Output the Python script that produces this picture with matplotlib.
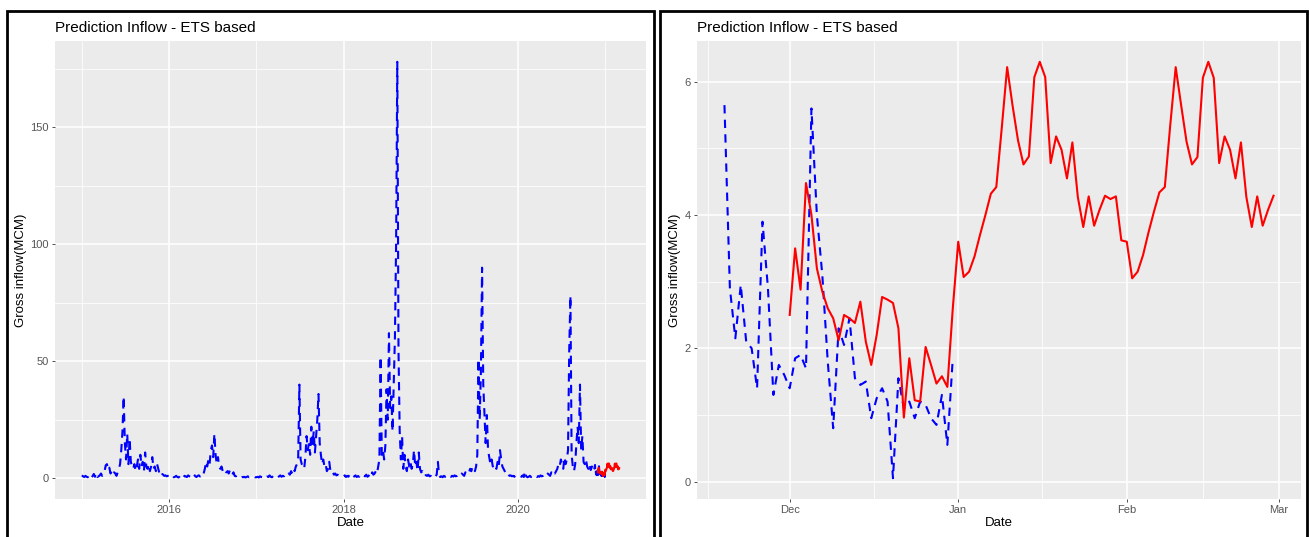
import matplotlib
matplotlib.use('Agg')
import matplotlib.pyplot as plt
import matplotlib.dates as mdates
from matplotlib.patches import Rectangle
import numpy as np
import pandas as pd

plt.rcParams['font.family'] = ['Liberation Sans', 'DejaVu Sans']

# observed gross inflow, read every 5 days from Jan 1 of each year
inflow_2015 = [1.2, 0.8, 0.5, 1.0, 0.6, 0.4, 1.5, 0.7, 0.3, 0.9,
               1.8, 0.6, 2.2, 0.5, 0.8, 1.2, 2.0, 1.0, 1.5, 3.0,
               5.5, 6.0, 3.5, 4.5, 2.0, 3.0, 1.5, 2.5, 2.0, 1.0,
               2.5, 4.0, 6.0, 12.0, 20.0, 35.0, 15.0, 8.0, 19.0, 6.0,
               17.0, 7.0, 5.0, 4.0, 6.0, 3.0, 5.0, 8.0, 4.0, 10.0,
               5.0, 7.0, 3.0, 11.0, 5.0, 4.0, 6.0, 3.0, 5.0, 9.0,
               4.0, 5.0, 3.0, 6.0, 4.0, 2.0, 3.0, 2.0, 1.5, 1.0,
               1.2, 0.8, 1.0]
inflow_2016 = [1.0, 0.5, 0.8, 1.2, 0.4, 0.6, 1.0, 0.5, 0.3, 0.8,
               1.5, 0.6, 0.4, 1.0, 0.7, 0.5, 1.2, 0.8, 0.5, 1.0,
               0.6, 1.5, 0.8, 0.5, 1.0, 1.2, 0.7, 1.5, 1.0, 2.0,
               4.0, 7.0, 5.0, 8.0, 6.0, 12.0, 14.0, 9.0, 19.0, 10.0,
               6.0, 9.0, 5.0, 4.0, 5.0, 3.0, 4.0, 3.0, 2.5, 3.0,
               2.0, 3.5, 2.0, 1.5, 2.5, 1.0, 0.8, 1.2, 0.5, 0.6,
               0.3, 0.5, 0.4, 0.6, 0.3, 0.5, 0.8, 0.4, 0.6, 0.3,
               0.5, 0.7, 0.4]
inflow_2017 = [0.4, 0.6, 0.3, 0.8, 0.5, 0.4, 1.0, 0.6, 0.3, 0.7,
               0.5, 1.2, 0.6, 0.4, 0.9, 0.5, 1.0, 0.7, 0.4, 0.8,
               1.2, 0.6, 1.0, 0.8, 1.5, 0.9, 1.2, 2.0, 1.5, 3.0,
               2.0, 4.0, 3.0, 5.0, 6.0, 9.0, 40.0, 8.0, 6.0, 5.0,
               4.0, 9.0, 18.0, 12.0, 15.0, 10.0, 22.0, 14.0, 20.0, 11.0,
               18.0, 25.0, 36.0, 15.0, 10.0, 6.0, 8.0, 5.0, 6.0, 3.0,
               4.0, 7.0, 3.0, 2.0, 2.5, 1.5, 2.0, 1.2, 1.5, 1.0,
               1.2, 0.8, 1.0]
inflow_2018 = [0.8, 1.2, 0.5, 1.0, 0.6, 1.5, 0.8, 0.4, 1.0, 0.7,
               1.2, 0.5, 0.9, 0.6, 1.3, 0.7, 0.5, 1.0, 0.8, 1.5,
               0.6, 1.0, 1.8, 0.8, 2.5, 1.5, 2.0, 3.0, 2.0, 5.0,
               8.0, 52.0, 10.0, 12.0, 8.0, 14.0, 38.0, 25.0, 62.0, 30.0,
               35.0, 20.0, 40.0, 60.0, 100.0, 178.0, 55.0, 20.0, 8.0, 18.0,
               4.0, 10.0, 5.0, 3.0, 8.0, 5.0, 7.0, 4.0, 6.0, 12.0,
               5.0, 7.0, 3.0, 11.0, 4.0, 2.5, 3.0, 1.5, 2.0, 1.2,
               1.0, 1.5, 0.8]
inflow_2019 = [1.0, 0.6, 1.2, 0.5, 0.8, 1.5, 7.0, 1.0, 0.5, 0.8,
               0.4, 1.0, 0.6, 0.8, 1.2, 0.5, 0.9, 0.6, 1.0, 0.7,
               1.2, 0.8, 1.0, 1.5, 0.9, 1.2, 2.0, 1.5, 1.0, 2.5,
               2.0, 3.0, 2.5, 4.0, 3.0, 5.0, 4.0, 3.0, 5.0, 10.0,
               51.0, 25.0, 45.0, 90.0, 40.0, 28.0, 15.0, 27.0, 12.0, 9.0,
               6.0, 8.0, 5.0, 6.0, 5.0, 4.0, 7.0, 5.0, 12.0, 8.0,
               5.0, 4.0, 3.0, 2.0, 2.5, 1.5, 1.0, 1.2, 0.8, 1.0,
               0.6, 1.0, 0.8]
inflow_2020 = [0.8, 0.5, 1.0, 0.6, 1.2, 0.5, 3.0, 0.8, 0.4, 0.6,
               1.0, 0.5, 0.8, 0.4, 0.7, 1.0, 0.5, 0.9, 0.6, 1.2,
               0.8, 1.0, 1.5, 0.8, 1.2, 2.0, 1.5, 1.0, 2.5, 2.0,
               3.0, 2.0, 3.0, 4.0, 6.0, 5.0, 8.0, 6.0, 4.0, 9.0,
               6.0, 8.0, 12.0, 55.0, 78.0, 10.0, 5.0, 3.0, 6.0, 15.0,
               22.0, 15.0, 40.0, 12.0, 18.0, 7.0, 6.0, 8.0, 5.0, 4.0,
               6.0, 3.5, 5.0, 3.0, 4.0]

# daily observed inflow, 19 Nov - 31 Dec 2020
tail_start = '2020-11-19'
inflow_tail = [5.65, 2.9, 2.15, 2.95, 2.1, 2.0, 1.4, 3.9, 2.9, 1.3, 1.75, 1.6,
               1.4, 1.85, 1.9, 1.7, 5.6, 4.0, 3.1, 1.8, 0.8, 2.3, 2.05, 2.45,
               1.55, 1.45, 1.5, 0.95, 1.25, 1.4, 1.2, 0.05, 1.55, 1.1, 1.2,
               0.95, 1.2, 1.15, 0.95, 0.85, 1.3, 0.55, 1.85]

# daily ETS prediction, 1 Dec 2020 - 28 Feb 2021
pred_start = '2020-12-01'
pred_dec = [2.5, 3.5, 2.88, 4.48, 4.0, 3.2, 2.85, 2.6, 2.45, 2.12, 2.5, 2.45,
            2.38, 2.7, 2.1, 1.75, 2.2, 2.77, 2.73, 2.68, 2.3, 0.96, 1.85,
            1.22, 1.2, 2.02, 1.75, 1.47, 1.58, 1.42, 2.6]
pred_jan = [3.6, 3.07, 3.15, 3.38, 3.7, 4.0, 4.32, 4.42, 5.3, 6.22, 5.64,
            5.12, 4.76, 4.88, 6.07, 6.3, 6.07, 4.78, 5.18, 4.98, 4.55, 5.09,
            4.27, 3.82, 4.28, 3.84, 4.08, 4.29, 4.24, 4.28, 3.62]
pred_feb = [3.6, 3.05, 3.15, 3.4, 3.74, 4.05, 4.34, 4.42, 5.35, 6.22, 5.65,
            5.1, 4.76, 4.87, 6.06, 6.3, 6.06, 4.78, 5.18, 4.98, 4.55, 5.09,
            4.27, 3.82, 4.28, 3.84, 4.08, 4.29]

title = 'Prediction Inflow - ETS based'
xlab = 'Date'
ylab = 'Gross inflow(MCM)'

# build series
years = [2015, 2016, 2017, 2018, 2019, 2020]
yearly = [inflow_2015, inflow_2016, inflow_2017, inflow_2018, inflow_2019, inflow_2020]
obs_dates = [pd.date_range(f'{y}-01-01', periods=len(v), freq='5D') for y, v in zip(years, yearly)]
tail_dates = pd.date_range(tail_start, periods=len(inflow_tail), freq='D')
obs_x = np.concatenate([d.to_numpy() for d in obs_dates] + [tail_dates.to_numpy()])
obs_y = np.concatenate(yearly + [inflow_tail])

pred_y = np.array(pred_dec + pred_jan + pred_feb)
pred_x = pd.date_range(pred_start, periods=len(pred_y), freq='D').to_numpy()

W, H = 1309, 537
fig = plt.figure(figsize=(W / 100, H / 100), dpi=100)

def px(x0, y0, x1, y1):
    return [x0 / W, 1 - y1 / H, (x1 - x0) / W, (y1 - y0) / H]

ax1 = fig.add_axes(px(55, 41, 646, 499))
ax2 = fig.add_axes(px(697, 41, 1301, 499))

blue_kw = dict(color='#0000FF', lw=1.5, ls='--', dashes=(4, 3))
red_kw = dict(color='#FF0000', lw=1.5)

ax1.plot(obs_x, obs_y, **blue_kw)
ax1.plot(pred_x, pred_y, **red_kw)
ax2.plot(tail_dates.to_numpy(), inflow_tail, **blue_kw)
ax2.plot(pred_x, pred_y, **red_kw)


def midpoints(locs):
    locs = np.asarray(locs, dtype=float)
    return (locs[:-1] + locs[1:]) / 2

# left: year ticks every 2 years
maj1 = mdates.date2num(pd.date_range('2014-01-01', '2022-01-01', freq='2YS'))
ax1.set_xticks(maj1)
ax1.set_xticks(midpoints(maj1), minor=True)
ax1.xaxis.set_major_formatter(mdates.DateFormatter('%Y'))
ax1.set_yticks([0, 50, 100, 150])
ax1.set_yticks([25, 75, 125, 175], minor=True)

# right: month ticks
maj2 = mdates.date2num(pd.date_range('2020-11-01', '2021-04-01', freq='MS'))
ax2.set_xticks(maj2)
ax2.set_xticks(midpoints(maj2), minor=True)
ax2.xaxis.set_major_formatter(mdates.DateFormatter('%b'))
ax2.set_yticks([0, 2, 4, 6])
ax2.set_yticks([1, 3, 5], minor=True)

lims = {ax1: (obs_x.min(), pred_x.max()), ax2: (tail_dates.min().to_numpy(), pred_x.max())}
for ax in (ax1, ax2):
    lo, hi = mdates.date2num(lims[ax][0]), mdates.date2num(lims[ax][1])
    span = hi - lo
    ax.set_xlim(lo - 0.05 * span, hi + 0.05 * span)
    ymin = min(ax.dataLim.y0, 0) if ax is ax1 else ax.dataLim.y0
    ymax = ax.dataLim.y1
    ax.set_ylim(ymin - 0.05 * (ymax - ymin), ymax + 0.05 * (ymax - ymin))

    ax.set_facecolor('#EBEBEB')
    for s in ax.spines.values():
        s.set_visible(False)
    ax.grid(True, which='major', color='white', lw=1.1)
    ax.grid(True, which='minor', color='white', lw=0.55)
    ax.set_axisbelow(True)
    ax.tick_params(which='major', length=2.2, width=0.6, color='#333333',
                   labelsize=8, labelcolor='#555555', pad=2.2)
    ax.tick_params(which='minor', length=0)
    ax.set_title(title, loc='left', fontsize=11, color='black', pad=6.5)
    ax.set_xlabel(xlab, fontsize=9.5, color='black', labelpad=1)
    ax.set_ylabel(ylab, fontsize=9.5, color='black', labelpad=2.5)

# black frames around each panel (bottom edge cut off)
for x0, x1 in [(7, 654), (660, 1307)]:
    fig.add_artist(Rectangle((x0 / W, -0.05), (x1 - x0) / W, 1 - 11 / H + 0.05,
                             transform=fig.transFigure, fill=False,
                             edgecolor='black', lw=2.0))

fig.savefig('out.png', dpi=100)
